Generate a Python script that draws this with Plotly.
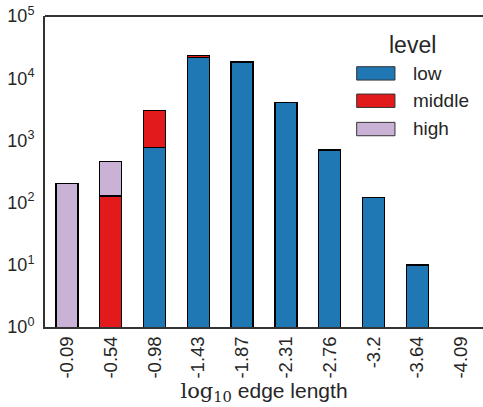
import plotly.graph_objects as go

categories = ["-0.09", "-0.54", "-0.98", "-1.43", "-1.87", "-2.31", "-2.76", "-3.2", "-3.64", "-4.09"]
low = [None, None, 763, 21500, 18200, 4050, 700, 122, 10, None]
middle = [None, 128, 2240, 1500, 200, 50, None, None, None, None]
high = [204, 333, None, None, None, None, None, None, None, None]
series_names = ["low", "middle", "high"]
colors = ["#1f77b4", "#e31a1c", "#cab2d6"]
ytick_vals = [1, 10, 100, 1000, 10000, 100000]
ytick_text = ["10<sup>0</sup>", "10<sup>1</sup>", "10<sup>2</sup>", "10<sup>3</sup>", "10<sup>4</sup>", "10<sup>5</sup>"]

FONT = "Liberation Sans, Arial, sans-serif"
TXT = "#262626"

fig = go.Figure()
for name, vals, c in zip(series_names, [low, middle, high], colors):
    fig.add_trace(go.Bar(
        x=categories, y=vals, name=name, width=0.5,
        marker=dict(color=c, line=dict(color="black", width=1.4)),
        showlegend=False,
    ))

fig.update_layout(
    width=483, height=407,
    margin=dict(l=45, r=0, t=16, b=80),
    barmode="stack",
    plot_bgcolor="white", paper_bgcolor="white",
    font=dict(family=FONT, size=18, color=TXT),
)
fig.update_yaxes(
    type="log", range=[0, 5], tickvals=ytick_vals, ticktext=ytick_text, automargin=False,
    showgrid=False, zeroline=False, showline=True, linecolor="#333333", linewidth=2,
    mirror=False, ticks="", tickfont=dict(size=18, color=TXT), ticklabelstandoff=5,
)
fig.update_xaxes(
    showgrid=False, showline=True, linecolor="#333333", linewidth=2, ticks="", automargin=False,
    tickangle=-90, tickfont=dict(size=18.5, color=TXT), range=[-0.5, 9.5],
    title=dict(text="<span style='font-family:DejaVu Serif, serif'>log<sub>10</sub></span> edge length",
               font=dict(size=21, color=TXT), standoff=4),
)
# top border line
fig.add_shape(type="line", xref="paper", yref="paper", x0=0, x1=1, y0=1, y1=1,
              line=dict(color="#333333", width=2))

# legend (manual)
leg_y = [(0.837, 0.794, 0.815), (0.749, 0.706, 0.728), (0.658, 0.615, 0.637)]
for (y1, y0, yc), name, c in zip(leg_y, series_names, colors):
    fig.add_shape(type="rect", xref="paper", yref="paper", x0=0.7116, x1=0.799, y0=y0, y1=y1,
                  fillcolor=c, line=dict(color="#333333", width=1))
    fig.add_annotation(xref="paper", yref="paper", x=0.836, y=yc, text=name, showarrow=False,
                       xanchor="left", yanchor="middle", font=dict(size=19, color=TXT))
fig.add_annotation(xref="paper", yref="paper", x=0.840, y=0.907, text="level", showarrow=False,
                   xanchor="center", yanchor="middle", font=dict(size=23, color=TXT))

fig.write_html("out.html", config={"displayModeBar": False},
               post_script="document.body.style.margin='0px';document.body.style.overflow='hidden';")
